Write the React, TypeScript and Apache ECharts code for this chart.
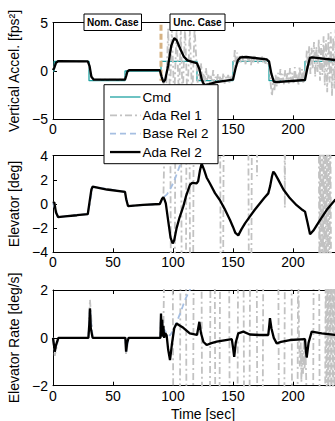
import React, { useEffect, useRef } from "react";
import * as echarts from "echarts";

type Pt = [number, number];

// ---------- data (time [s], value) ----------
const seriesNames = ["Cmd", "Ada Rel 1", "Base Rel 2", "Ada Rel 2"];
const caseLabels = ["Nom. Case", "Unc. Case"];
const timeRange = [0, 250];
const timeStep = 50;
const hiddenTimeLabelsTop = [50, 100, 250]; // covered by legend / off-canvas in the reference
const hiddenTimeLabels = [250];
const accelRange = [-5, 5];
const accelStep = 5;
const elevRange = [-4, 4];
const elevStep = 2;
const rateRange = [-2, 2];
const rateStep = 2;
const caseSwitch: Pt[] = [[90, 4.8], [90, -1.0]];

const cmdAccel: Pt[] = [
  [0, 0], [1, 0], [1, 1], [30, 1], [30, -1], [60, -1], [60, 0], [90, 0], [90, 1],
  [120, 1], [120, -1], [150, -1], [150, 1], [180, 1], [180, -1], [210, -1], [210, 1], [250, 1],
];

const adaRel2Accel: Pt[] = [
  [0, 0.1], [1, 0.3], [2.5, 0.85], [4.5, 1.03], [29, 1.0], [30.5, 0.5], [32, -0.6], [34, -0.9],
  [60, -0.9], [61, -0.5], [62, -0.05], [63.5, 0.1], [89, 0.1], [90.5, -0.6], [92, -1.15],
  [93.5, -0.9], [96, 0.6], [98.5, 2.6], [101, 3.4], [103, 3.2], [106, 2.3], [109, 1.5],
  [112, 1.1], [116, 0.95], [120, 0.8], [122, 0.2], [124, -0.9], [126, -1.45], [130, -1.35],
  [136, -1.15], [150, -0.9], [152, 0.2], [154, 1.1], [156, 1.4], [161, 1.45], [178, 1.2],
  [180, 1.0], [182, -0.3], [184, -1.1], [186, -1.15], [210, -0.93], [212, 0.3], [214, 1.35],
  [216, 1.42], [235, 1.14], [250, 1.05],
];

const adaRel1Accel: Pt[] = [
  [0, 0.1], [2.5, 0.85], [4.5, 1.03], [29, 1.0], [32, -0.6], [34, -0.9], [60, -0.9], [62, -0.05],
  [63.5, 0.1], [89, 0.1], [92, -1.1], [94, -3], [96, 4.4], [97.5, -3], [99, 4.4], [101, -3],
  [103, 4.3], [105, -3], [106.5, 4.4], [108, -3], [110, 4.4], [112, -3], [114, 4.3], [116, -3],
  [118, 4.4], [120.5, -1.2], [121.5, 0.6], [122.5, -0.9], [123.5, 0.8], [124.5, -1.3],
  [125.5, -0.2], [126.5, -1.1], [127.5, 0.3], [128.5, -1.0], [129.5, -0.4], [130.5, -1.2],
  [131.5, -0.5], [132.5, -1.1], [133.5, 0.1], [134.5, -1.3], [135.5, -0.6], [136.5, -1.0],
  [137.5, -0.3], [138.5, -1.2], [139.5, -0.5], [141, -1.1], [142, -0.2], [143, -1.3],
  [144, -0.6], [145, -0.9], [146, -0.4], [147, -1.2], [148, -0.6], [149, -1.0],
  [150.5, 0.2], [151.5, 2.3], [152.5, 0.4], [153.5, 1.9], [154.5, 0.8], [155.5, 1.6],
  [156.5, 0.9], [157.5, 1.7], [158.5, 1.0], [159.5, 1.5], [160.5, 0.7], [161.5, 1.6],
  [163, 1.0], [164, 1.4], [165, 0.6], [166, 1.5], [167, 0.9], [168, 1.7], [169, 1.1],
  [170, 1.3], [171, 0.8], [172, 1.5], [173, 1.0], [174, 1.6], [175, 0.9], [176, 1.4],
  [177, 0.6], [178, 1.3], [179, 0.9], [180.5, 0.4], [181.5, -1.5], [182.5, -2.6],
  [183.5, -0.8], [184.5, -2.1], [185.5, -0.4], [186.5, -1.6], [187.5, -0.2], [188.5, -1.3],
  [189.5, 0.2], [190.5, -1.1], [191.5, -0.3], [192.5, -1.4], [193.5, 0.1], [194.5, -0.9],
  [195.5, -0.1], [196.5, -1.3], [197.5, 0.3], [198.5, -1.0], [199.5, -0.2], [200.5, -1.4],
  [201.5, 0.4], [202.5, -0.8], [203.5, -0.3], [204.5, -1.5], [205.5, 0.5], [206.5, -1.1],
  [207.5, 0.2], [208.5, -1.2], [209.5, 0.0], [210.5, -0.5], [211.5, 2.2], [212.5, 0.1],
  [213.5, 2.6], [214.5, -0.3], [215.5, 2.4], [216.5, 0.2], [217.5, 3.0], [218.5, -0.6],
  [219.5, 2.5], [220.5, -0.1], [221.5, 3.3], [222.5, -1.0], [223.5, 2.8], [224.5, -0.4],
  [225.5, 3.6], [226.5, -1.5], [227.5, 3.2], [228.5, -2.2], [229.5, 3.9], [230.5, -1.2],
  [231.5, 4.0], [232.5, -2.6], [233.5, 3.5], [234.5, -1.8], [235.5, 4.3], [236.5, -3.0],
  [237.5, 4.5], [238.5, -2.4], [239.5, 4.2], [240.5, -2.8], [241.5, 4.6], [250, 1.0],
];

const adaRel2Elev: Pt[] = [
  [0, 0.08], [1, 0.15], [2.5, -0.7], [4.2, -1.08], [10, -1.02], [20, -0.93], [29, -0.83],
  [30.5, 0.2], [32, 1.2], [33, 1.43], [45, 1.2], [60, 1.0], [61, 0.4], [62.5, -0.17],
  [75, -0.08], [89, 0], [91, 0.45], [92, 0.55], [93, 0.35], [94, 0.05], [96, -1.4], [98, -2.8],
  [99.7, -3.26], [101, -3.0], [103, -2.0], [105.5, -1.1], [108.6, -0.2], [111, 0.7],
  [114.2, 1.6], [116, 1.75], [119.7, 1.7], [121, 1.9], [122.5, 2.8], [123.9, 3.35], [126, 2.8],
  [128, 2.2], [130.8, 1.7], [135, 0.9], [139, 0.33], [143, -0.4], [147.5, -1.33], [150, -1.9],
  [152, -2.4], [154.4, -2.6], [157, -2.1], [160, -1.6], [164, -1.05], [168, -0.5],
  [172.5, 0.06], [176, 0.5], [179.4, 0.88], [181, 1.5], [182.5, 2.3], [183.6, 2.68], [185, 2.5],
  [187.8, 2.0], [192, 1.2], [197.5, 0.47], [203, -0.1], [208, -0.5], [210, -0.63], [212, -1.5],
  [214.2, -2.51], [217, -2.2], [222.5, -1.33], [228, -0.5], [235, 0.33], [242, 0.8], [250, 1.2],
];

const adaRel1Elev: Pt[] = [
  [0, 0.08], [1, 0.15], [4.2, -1.08], [29, -0.83], [33, 1.43], [60, 1.0], [62.5, -0.17],
  [89, 0], [92, 0.55], [93.5, 8], [97.7, 8], [98.3, -8], [101.4, -8], [102, 8], [106.7, 8],
  [107.3, -8], [110.7, -8], [111.3, 8], [113.7, 8], [114.3, -8], [116.7, -8], [117.3, 8],
  [139.2, 8], [139.8, -8], [141.7, -8], [142.3, 8], [162.7, 8], [163.3, -8], [165.2, -8],
  [165.8, 8], [169.7, 8], [170, 2.3], [170.3, 8], [192.8, 8], [193.2, -0.3], [193.6, 8],
  [221.5, 8], [222, -8], [222.7, 8], [223.4, -8], [224.1, 8], [224.8, -8], [225.5, 8],
  [226.2, -8], [226.9, 8], [227.6, -8], [228.3, 8], [229, -8], [229.7, 8], [230.4, -8],
  [231.1, 8], [231.8, -8], [250, -8],
];

const baseRel2Elev: Pt[] = [
  [0, 0.08], [4.2, -1.08], [29, -0.83], [33, 1.43], [60, 1.0], [62.5, -0.17], [89, 0],
  [92, 0.55], [95, 0.8], [98, 1.3], [101, 1.9], [103.5, 2.6], [105.8, 3.2], [108, 4.0], [110, 4.8],
];

const adaRel2Rate: Pt[] = [
  [0, 0], [0.8, -0.3], [1.5, -0.58], [2.5, -0.3], [4.5, 0], [29.5, 0], [30.3, 0.6], [30.8, 1.23],
  [31.5, 0.4], [33, 0], [60.3, 0], [60.9, -0.58], [61.8, -0.2], [63, 0], [89.5, 0], [90, 1.02],
  [90.5, 0.1], [91, 0.75], [91.5, 0.05], [92, 0.5], [92.6, 0], [93.5, 0.2], [94.7, 0.1],
  [96, -0.5], [97.5, -0.93], [99, -0.3], [101, 0.4], [103, 0.6], [105.5, 0.52], [108.6, 0.42],
  [114, 0.19], [120, 0.12], [121, 0.4], [122, 0.67], [123.3, 0.2], [125.3, -0.16], [128, -0.3],
  [132, -0.22], [136.4, -0.16], [149, -0.05], [150, -0.4], [151, -0.79], [152.3, -0.2],
  [154.4, 0.19], [158.6, 0.26], [164, 0.14], [172, 0.12], [179.4, 0.12], [180.2, 0.5],
  [180.8, 0.82], [182, 0.4], [184, 0.0], [186.4, -0.23], [190, -0.17], [197.5, -0.09],
  [210, -0.05], [210.7, -0.5], [211.4, -0.83], [213, -0.2], [215.6, 0.26], [224, 0.19],
  [235, 0.12], [250, 0.08],
];

const adaRel1Rate: Pt[] = [
  [0, 0], [1.5, -0.75], [4.5, 0], [29.5, 0], [30.8, 1.6], [33, 0], [60.3, 0], [60.9, -0.7],
  [63, 0], [89.5, 0], [90, 1.0], [92, 0.4], [93, 4], [99.7, 4], [100.3, -4], [105.7, -4],
  [106.3, 4], [110.7, 4], [111.3, -4], [116.7, -4], [117.3, 4], [123.7, 4], [124.3, -4],
  [130.7, -4], [131.3, 4], [134.7, 4], [135.3, -4], [138.7, -4], [139.3, 4], [146.7, 4],
  [147.3, -4], [153.7, -4], [154.3, 4], [158.7, 4], [159.3, -4], [163.7, -4], [164.3, 4],
  [169.7, 4], [170.3, -4], [174.7, -4], [175.3, 4], [187.7, 4], [188.3, -4], [192.7, -4],
  [193.3, 4], [198.7, 4], [199.3, -4], [203.7, -4], [204.3, 4], [205, 0.1], [205.7, -1.2],
  [206.4, -0.2], [207, -1.85], [207.7, -0.5], [208.4, -1.5], [209, 0], [209.7, -1.3],
  [210.4, -0.4], [211, -1.7], [211.7, -4], [216.7, -4], [217.3, 4], [221.7, 4], [222.3, -4],
  [226.7, -4], [227.3, 4], [228, -4], [228.7, 4], [229.4, -4], [230, 4], [230.6, -4],
  [231.3, 4], [232, -4], [232.6, 4], [233.3, -4], [234, 4], [234.6, -4], [235.3, 4], [236, -4],
  [250, -4],
];

const baseRel2Rate: Pt[] = [
  [0, 0], [1.5, -0.58], [4.5, 0], [29.5, 0], [30.8, 1.23], [33, 0], [60.3, 0], [60.9, -0.58],
  [63, 0], [89.5, 0], [90, 1.0], [91, 0.3], [93, 0.33], [95, 0.15], [97.5, 0.1], [100, 0.3],
  [103, 0.65], [105.8, 1.0], [108, 1.3], [110, 1.58], [112, 1.8], [114, 2.0], [116, 2.3],
];

// ---------- styling ----------
const FONT = "'Liberation Sans', Arial, Helvetica, sans-serif";
const C_CMD = "#1fa3a3";
const C_ADA1 = "#c2c2c2";
const C_BASE2 = "#a6bfe2";
const C_ADA2 = "#000000";
const C_TAN = "#d6b283";
const DASH_DOT = [7, 3, 2, 3];
const DASHED = [6, 4];

const legendStyles = [
  { color: C_CMD, width: 1.3, dash: null as number[] | null },
  { color: C_ADA1, width: 1.8, dash: DASH_DOT },
  { color: C_BASE2, width: 1.8, dash: DASHED },
  { color: C_ADA2, width: 2.3, dash: null as number[] | null },
];

const fmt = (v: number) => (v < 0 ? "\u2212" + Math.abs(v) : String(v));

const gridBoxes = [
  { left: 53, top: 22.7, width: 300, height: 96.6 },
  { left: 53, top: 155.7, width: 300, height: 96.6 },
  { left: 53, top: 290, width: 300, height: 95.7 },
];

function line(name: string, gi: number, data: Pt[], color: string, width: number, type: any, z = 2) {
  return {
    type: "line",
    name,
    xAxisIndex: gi,
    yAxisIndex: gi,
    data,
    showSymbol: false,
    symbol: "none",
    silent: true,
    clip: true,
    z,
    lineStyle: { color, width, type },
    itemStyle: { color },
    emphasis: { disabled: true },
  };
}

export default function App() {
  const ref = useRef<HTMLDivElement>(null);
  useEffect(() => {
    if (!ref.current) return;
    const chart = echarts.init(ref.current, undefined, { renderer: "svg" });
    const yDefs = [
      { range: accelRange, step: accelStep, name: "Vertical Accel. [fps\u00B2]" },
      { range: elevRange, step: elevStep, name: "Elevator [deg]" },
      { range: rateRange, step: rateStep, name: "Elevator Rate [deg/s]" },
    ];
    const axisLineStyle = { color: "#000", width: 1 };
    const bottomX = [0, 1, 2].map((i) => {
      const hidden = i === 0 ? hiddenTimeLabelsTop : hiddenTimeLabels;
      return {
        type: "value",
        gridIndex: i,
        min: timeRange[0],
        max: timeRange[1],
        interval: timeStep,
        axisLine: { show: true, onZero: false, lineStyle: axisLineStyle },
        axisTick: { show: true, inside: true, length: 4, lineStyle: axisLineStyle },
        axisLabel: {
          show: true,
          color: "#000",
          fontSize: 14,
          fontFamily: FONT,
          margin: 3,
          formatter: (v: number) => (hidden.indexOf(v) >= 0 ? "" : String(v)),
        },
        splitLine: { show: false },
        name: i === 2 ? "Time [sec]" : "",
        nameLocation: "middle",
        nameGap: 21,
        nameTextStyle: { color: "#000", fontSize: 14, fontFamily: FONT },
      };
    });
    const topX = [0, 1, 2].map((i) => ({
      type: "value",
      gridIndex: i,
      position: "top",
      min: timeRange[0],
      max: timeRange[1],
      interval: timeStep,
      axisLine: { show: true, onZero: false, lineStyle: axisLineStyle },
      axisTick: { show: true, inside: true, length: 4, lineStyle: axisLineStyle },
      axisLabel: { show: false },
      splitLine: { show: false },
    }));
    const yAxes = yDefs.map((d, i) => ({
      type: "value",
      gridIndex: i,
      min: d.range[0],
      max: d.range[1],
      interval: d.step,
      axisLine: { show: true, onZero: false, lineStyle: axisLineStyle },
      axisTick: { show: true, inside: true, length: 4, lineStyle: axisLineStyle },
      axisLabel: { show: true, color: "#000", fontSize: 14, fontFamily: FONT, margin: 5, formatter: fmt },
      splitLine: { show: false },
      name: d.name,
      nameLocation: "middle",
      nameGap: 21,
      nameTextStyle: { color: "#000", fontSize: 14, fontFamily: FONT },
    }));

    const series = [
      line("Cmd", 0, cmdAccel, C_CMD, 1.3, "solid"),
      line("Ada Rel 1", 0, adaRel1Accel, C_ADA1, 1.8, DASH_DOT),
      line("Switch", 0, caseSwitch, C_TAN, 3, [6, 3]),
      line("Ada Rel 2", 0, adaRel2Accel, C_ADA2, 2.3, "solid", 3),
      line("Ada Rel 1", 1, adaRel1Elev, C_ADA1, 1.8, DASH_DOT),
      line("Base Rel 2", 1, baseRel2Elev, C_BASE2, 1.8, DASHED),
      line("Ada Rel 2", 1, adaRel2Elev, C_ADA2, 2.3, "solid", 3),
      line("Ada Rel 1", 2, adaRel1Rate, C_ADA1, 1.8, DASH_DOT),
      line("Base Rel 2", 2, baseRel2Rate, C_BASE2, 1.8, DASHED),
      line("Ada Rel 2", 2, adaRel2Rate, C_ADA2, 2.3, "solid", 3),
    ];

    const graphic: any[] = [];
    // case annotation boxes
    const boxes = [
      { label: caseLabels[0], x: 84, w: 57.5 },
      { label: caseLabels[1], x: 170, w: 55 },
    ];
    boxes.forEach((b) => {
      graphic.push({
        type: "rect",
        z: 20,
        shape: { x: b.x, y: 14, width: b.w, height: 16.5 },
        style: { fill: "#fff", stroke: "#000", lineWidth: 1 },
      });
      graphic.push({
        type: "text",
        z: 21,
        x: b.x + b.w / 2,
        y: 22.5,
        style: {
          text: b.label,
          font: `bold 10px ${FONT}`,
          fill: "#000",
          align: "center",
          verticalAlign: "middle",
        },
      });
    });
    // legend box
    const lgX = 104, lgY = 84.7, lgW = 114, lgH = 79;
    graphic.push({
      type: "rect",
      z: 30,
      shape: { x: lgX, y: lgY, width: lgW, height: lgH },
      style: { fill: "#fff", stroke: "#000", lineWidth: 1 },
    });
    seriesNames.forEach((n, i) => {
      const cy = 97 + i * 18.35;
      const st = legendStyles[i];
      graphic.push({
        type: "line",
        z: 31,
        shape: { x1: 110, y1: cy, x2: 140.5, y2: cy },
        style: { stroke: st.color, lineWidth: st.width, lineDash: st.dash || undefined },
      });
      graphic.push({
        type: "text",
        z: 31,
        x: 142.5,
        y: cy,
        style: {
          text: n,
          font: `13.5px ${FONT}`,
          fill: "#000",
          align: "left",
          verticalAlign: "middle",
        },
      });
    });

    chart.setOption({
      animation: false,
      backgroundColor: "#fff",
      textStyle: { fontFamily: FONT },
      grid: gridBoxes.map((g) => ({ ...g, containLabel: false, outerBoundsMode: "none" })),
      xAxis: [...bottomX, ...topX],
      yAxis: yAxes,
      graphic,
      series,
    } as any);
    return () => chart.dispose();
  }, []);
  return (
    <div
      ref={ref}
      style={{ position: "fixed", left: 0, top: 0, width: 335, height: 421, background: "#fff" }}
    />
  );
}
